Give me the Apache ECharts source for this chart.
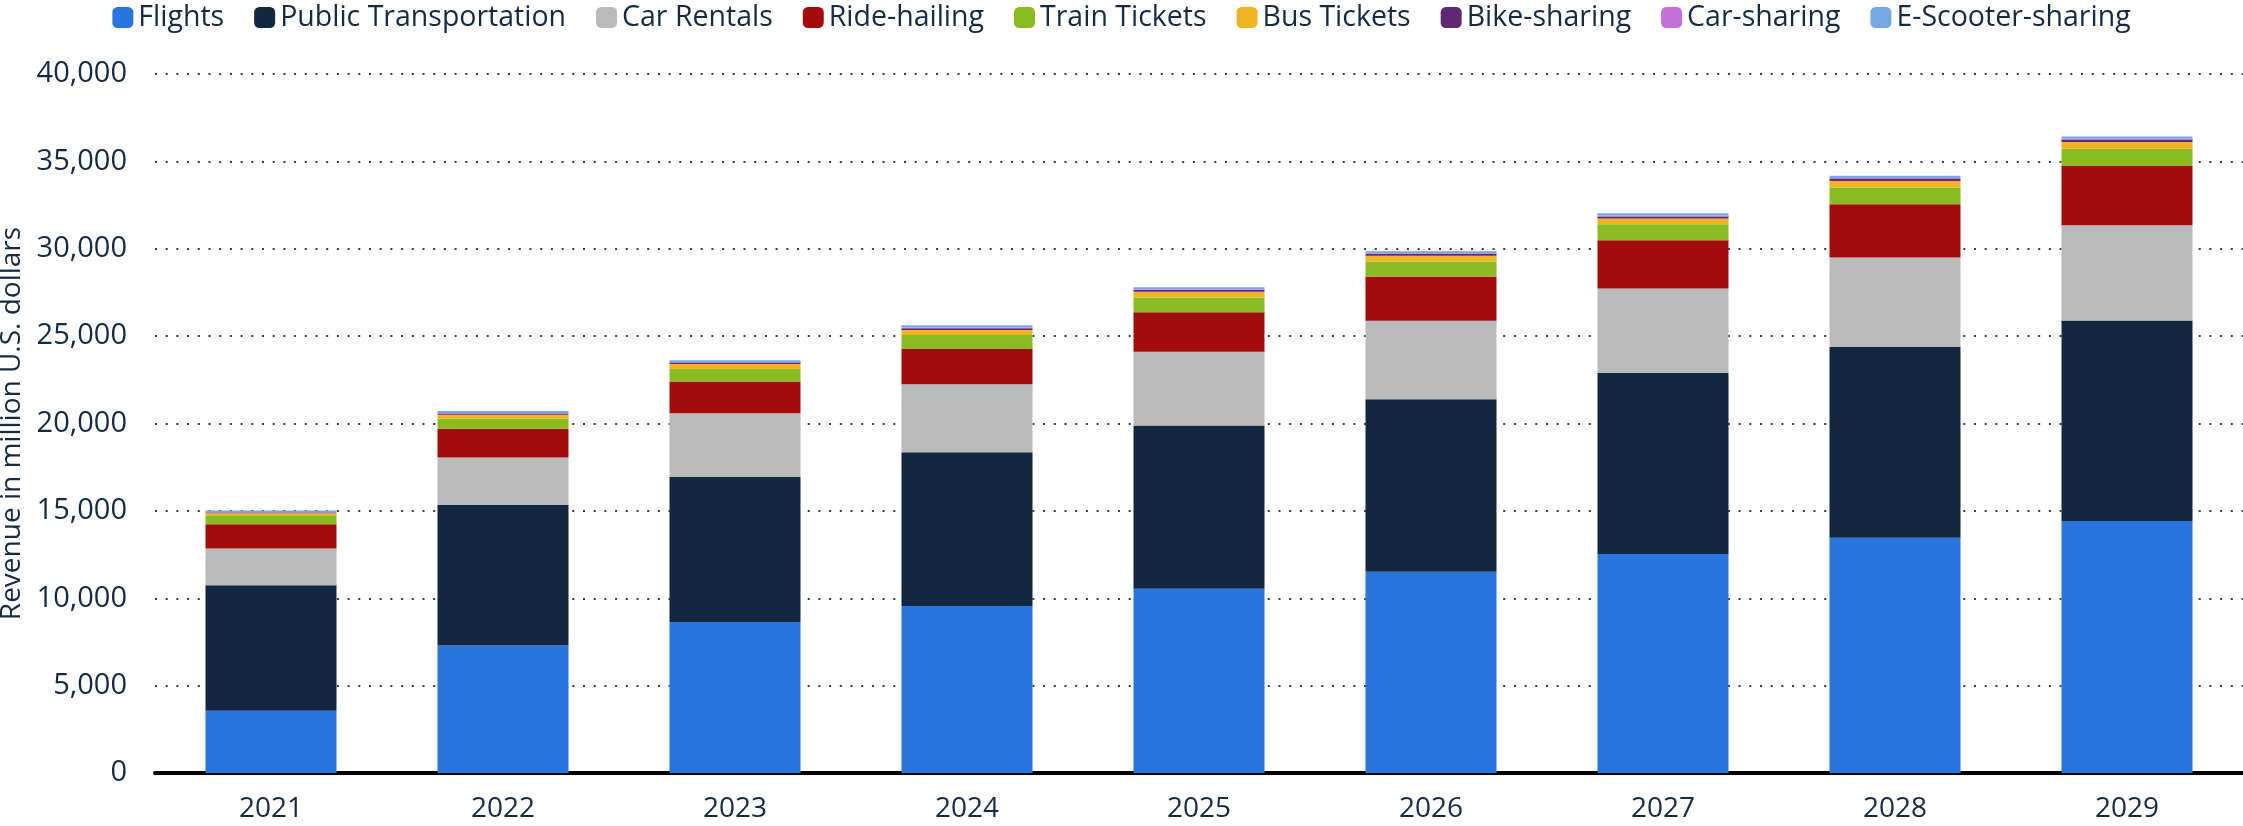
<!DOCTYPE html>
<html>
<head>
<meta charset="utf-8">
<script src="https://cdn.jsdelivr.net/npm/echarts@6/dist/echarts.min.js"></script>
<style>
html,body{margin:0;padding:0;background:#fff;}
#chart{width:2243px;height:826px;}
</style>
</head>
<body>
<div id="chart"></div>
<script>
const years = ['2021','2022','2023','2024','2025','2026','2027','2028','2029'];
const yTicks = [0, 5000, 10000, 15000, 20000, 25000, 30000, 35000, 40000];

const flights = [3560, 7290, 8640, 9550, 10550, 11510, 12530, 13460, 14420];
const publicTransportation = [7190, 8050, 8300, 8800, 9330, 9880, 10380, 10920, 11470];
const carRentals = [2100, 2720, 3650, 3900, 4220, 4490, 4810, 5120, 5460];
const rideHailing = [1390, 1640, 1810, 2020, 2270, 2530, 2770, 3050, 3390];
const trainTickets = [510, 570, 720, 800, 840, 860, 910, 960, 985];
const busTickets = [115, 230, 290, 285, 326, 326, 337, 360, 385];
const bikeSharing = [40, 70, 80, 100, 100, 100, 110, 120, 140];
const carSharing = [12, 30, 30, 40, 40, 45, 50, 55, 50];
const eScooterSharing = [100, 120, 100, 127, 125, 120, 128, 138, 120];

const seriesNames = ['Flights','Public Transportation','Car Rentals','Ride-hailing','Train Tickets','Bus Tickets','Bike-sharing','Car-sharing','E-Scooter-sharing'];
const seriesData = [flights, publicTransportation, carRentals, rideHailing, trainTickets, busTickets, bikeSharing, carSharing, eScooterSharing];
const colors = ['#2876dd','#132840','#bababa','#a30c0c','#8bbb22','#efb324','#5e2872','#c470d8','#77a8e6'];

const textColor = '#142a45';
const font = 'Open Sans';

const chart = echarts.init(document.getElementById('chart'), null, {renderer:'canvas'});
chart.setOption({
  animation: false,
  color: colors,
  textStyle: {fontFamily: font},
  legend: {
    top: -2,
    left: 'center',
    icon: 'roundRect',
    itemWidth: 21,
    itemHeight: 21,
    itemGap: 30,
    textStyle: {fontFamily: font, fontSize: 28.5, color: textColor},
    data: seriesNames
  },
  grid: {left: 155, right: 0, top: 74, bottom: 53, containLabel: false, outerBoundsMode: 'none'},
  xAxis: {
    type: 'category',
    data: years,
    axisTick: {show: false},
    axisLine: {show: true, lineStyle: {color: '#000', width: 4}},
    axisLabel: {fontFamily: font, fontSize: 28, color: textColor, margin: 22}
  },
  yAxis: {
    type: 'value',
    min: yTicks[0],
    max: yTicks[yTicks.length-1],
    interval: yTicks[1]-yTicks[0],
    name: 'Revenue in million U.S. dollars',
    nameLocation: 'middle',
    nameGap: 124,
    nameTextStyle: {fontFamily: font, fontSize: 28, color: textColor},
    axisLine: {show: false},
    axisTick: {show: false},
    axisLabel: {
      fontFamily: font, fontSize: 29, color: textColor, margin: 28,
      formatter: v => v.toLocaleString('en-US')
    },
    splitLine: {show: true, lineStyle: {color: '#3c3c3c', width: 2, type: [2, 8.7]}}
  },
  series: seriesNames.map((n, i) => ({
    name: n,
    type: 'bar',
    stack: 'total',
    barWidth: 131,
    data: seriesData[i],
    itemStyle: {color: colors[i]}
  }))
});
</script>
</body>
</html>
